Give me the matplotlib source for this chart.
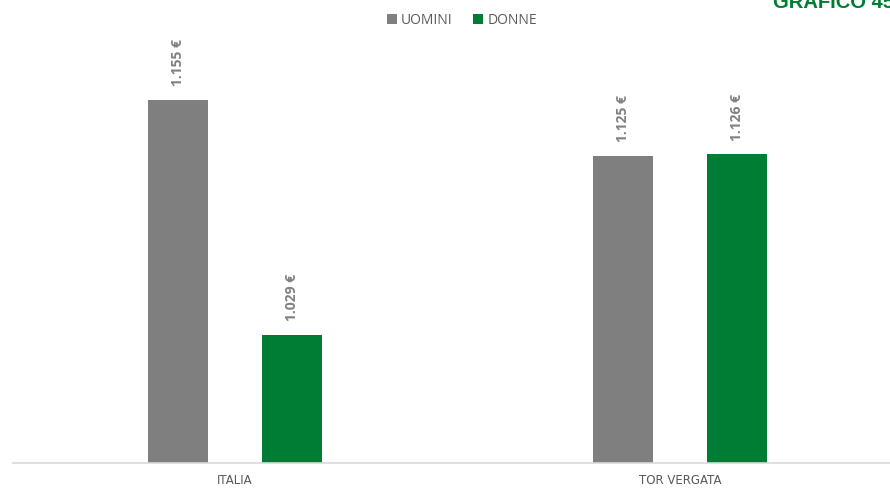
import matplotlib
matplotlib.use("Agg")
import matplotlib.pyplot as plt
import numpy as np

categories = ["ITALIA", "TOR VERGATA"]
series_names = ["UOMINI", "DONNE"]
uomini = [1155, 1125]
donne = [1029, 1126]
value_labels_uomini = ["1.155 €", "1.125 €"]
value_labels_donne = ["1.029 €", "1.126 €"]

GRAY = "#7f7f7f"
GREEN = "#007d34"
TEXT = "#595959"

plt.rcParams['font.family'] = ['Open Sans', 'DejaVu Sans']

fig = plt.figure(figsize=(8.9, 4.89), dpi=100)
y_bottom_px = 464
ymin, ymax = 960.4, 1180
k = 1.865
h_px = (ymax - ymin) * k
ax = fig.add_axes([12.5 / 890, (489 - y_bottom_px) / 489, 890 / 890, h_px / 489])

x = np.arange(len(categories))
w = 0.135
off = 0.129
b1 = ax.bar(x - off, [v - ymin for v in uomini], w, bottom=ymin, color=GRAY, label=series_names[0])
b2 = ax.bar(x + off, [v - ymin for v in donne], w, bottom=ymin, color=GREEN, label=series_names[1])

for bars, labels in ((b1, value_labels_uomini), (b2, value_labels_donne)):
    for rect, lab in zip(bars, labels):
        ax.annotate(lab, (rect.get_x() + rect.get_width() / 2, rect.get_y() + rect.get_height()),
                    xytext=(0, 10.5), textcoords="offset points", rotation=90,
                    ha="center", va="bottom", fontsize=10, fontweight="bold",
                    color="#808080", annotation_clip=False)

ax.set_xlim(-0.5, 1.5)
ax.set_ylim(ymin, ymax)
ax.set_xticks(x)
ax.set_xticklabels(categories, fontsize=8.5, color=TEXT, family=["DejaVu Sans"])
ax.tick_params(axis="x", length=0, pad=7.5)
ax.set_yticks([])
for s in ("top", "right", "left"):
    ax.spines[s].set_visible(False)
ax.spines["bottom"].set_color("#d9d9d9")
ax.spines["bottom"].set_linewidth(1.2)

leg = fig.legend(handles=[b1, b2], labels=series_names, loc="center",
                 bbox_to_anchor=(462 / 890, 1 - 21 / 489), ncol=2, frameon=False,
                 fontsize=10, handlelength=0.7, handleheight=0.7, handletextpad=0.3,
                 columnspacing=1.5)
for t in leg.get_texts():
    t.set_color(TEXT)

fig.text(773 / 890, 1 - 8 / 489, "GRAFICO 45", color=GREEN, fontsize=14.5,
         fontweight="bold", ha="left", va="baseline", family=["Liberation Sans", "DejaVu Sans"])

fig.savefig("out.png", dpi=100)
